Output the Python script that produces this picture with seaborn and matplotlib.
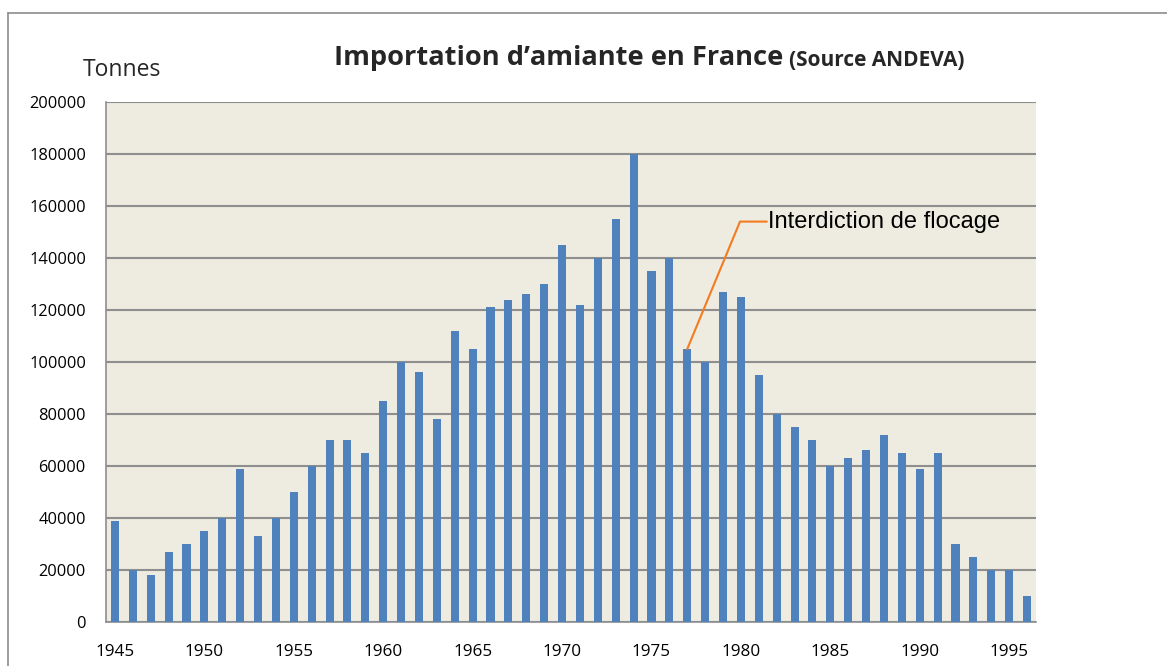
import matplotlib
matplotlib.use("Agg")
import matplotlib.pyplot as plt
import seaborn as sns
import pandas as pd
from matplotlib.lines import Line2D

years = list(range(1945, 1997))
tonnes = [39000, 20000, 18000, 27000, 30000, 35000, 40000, 59000, 33000, 40000,
          50000, 60000, 70000, 70000, 65000, 85000, 100000, 96000, 78000, 112000,
          105000, 121000, 124000, 126000, 130000, 145000, 122000, 140000, 155000, 180000,
          135000, 140000, 105000, 100000, 127000, 125000, 95000, 80000, 75000, 70000,
          60000, 63000, 66000, 72000, 65000, 59000, 65000, 30000, 25000, 20000,
          20000, 10000]
yticks = [0, 20000, 40000, 60000, 80000, 100000, 120000, 140000, 160000, 180000, 200000]
label_years = [1945, 1950, 1955, 1960, 1965, 1970, 1975, 1980, 1985, 1990, 1995]
title_main = "Importation d\u2019amiante en France"
title_src = "(Source ANDEVA)"
y_title = "Tonnes"
note_text = "Interdiction de flocage"
note_year = 1977

sns.set_theme(style="white")
plt.rcParams['font.family'] = ['Open Sans', 'DejaVu Sans']

df = pd.DataFrame({"year": [str(y) for y in years], "tonnes": tonnes})

W, H = 1167, 666
fig = plt.figure(figsize=(W / 100, H / 100), dpi=100)
ax = fig.add_axes([106 / W, 44 / H, 930 / W, 520 / H])
ax.set_facecolor("#EEEBE0")

sns.barplot(data=df, x="year", y="tonnes", color="#4F81BD", width=0.45,
            saturation=1, edgecolor="none", ax=ax, zorder=3)

ax.set_xlim(-0.5, len(years) - 0.5)
ax.set_ylim(0, 200000)
ax.set_yticks(yticks)
ax.set_yticklabels([str(v) for v in yticks], fontsize=11.8, color="black")
ax.yaxis.grid(True, color="#8E8E8E", linewidth=1.5, zorder=1)
ax.xaxis.grid(False)
ax.set_axisbelow(True)

pos = [years.index(y) for y in label_years]
ax.set_xticks(pos)
ax.set_xticklabels([str(y) for y in label_years], fontsize=12.3, color="black")
ax.set_xticks([i - 0.5 for i in range(len(years) + 1)], minor=True)
ax.tick_params(axis="x", which="major", length=0, pad=15.5)
ax.tick_params(axis="x", which="minor", length=4.5, color="#8E8E8E", width=1.2, direction="out")
ax.tick_params(axis="y", which="major", length=5, color="#8E8E8E", width=1.2, direction="out", pad=9.5)
ax.set_xlabel("")
ax.set_ylabel("")

for s in ["top", "right"]:
    ax.spines[s].set_visible(False)
for s in ["left", "bottom"]:
    ax.spines[s].set_color("#8E8E8E")
    ax.spines[s].set_linewidth(1.2)

# annotation
i_note = years.index(note_year)
ax.plot([i_note, 34.95, 36.45], [tonnes[i_note], 154000, 154000],
        color="#F47B20", linewidth=1.5, zorder=4, clip_on=False)
ax.annotate(note_text, xy=(36.5, 154000), xytext=(0, -4.3), textcoords="offset points",
            fontsize=17, va="baseline", ha="left",
            family=["Liberation Sans", "DejaVu Sans"], color="black", zorder=5)

# titles
t1 = fig.text(334 / W, 1 - 65 / H, title_main, fontsize=19.6, fontweight="bold",
              ha="left", va="baseline")
fig.canvas.draw()
bb = t1.get_window_extent()
fig.text((bb.x1 + 6) / W, 1 - 66 / H, title_src, fontsize=15, fontweight="bold",
         ha="left", va="baseline")
fig.text(83 / W, 1 - 76 / H, y_title, fontsize=16.5, ha="left", va="baseline")

# outer frame (left and top)
fig.add_artist(Line2D([8 / W, 8 / W], [0, 1 - 13 / H], transform=fig.transFigure,
                      color="#8C8C8C", linewidth=1.2))
fig.add_artist(Line2D([8 / W, 1], [1 - 13 / H, 1 - 13 / H], transform=fig.transFigure,
                      color="#8C8C8C", linewidth=1.2))

fig.savefig("out.png", dpi=100)
